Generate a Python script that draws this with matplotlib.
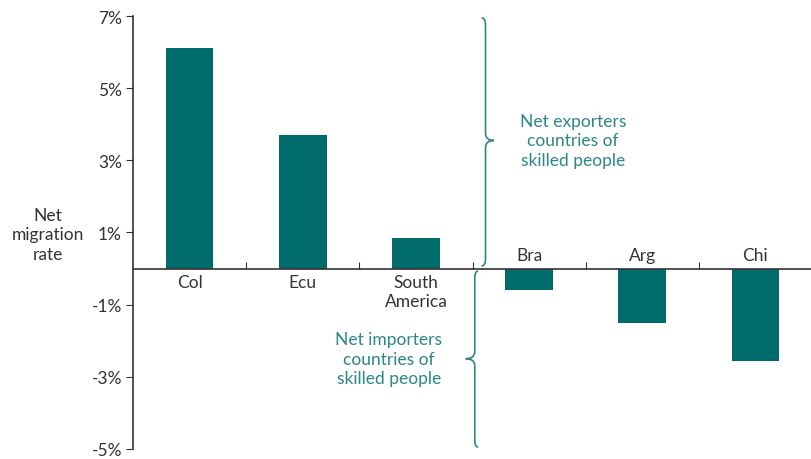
import matplotlib.pyplot as plt
from matplotlib.path import Path
from matplotlib.patches import PathPatch

# data
countries = ["Col", "Ecu", "South\nAmerica", "Bra", "Arg", "Chi"]
net_rate = [6.1, 3.7, 0.85, -0.6, -1.5, -2.55]
yticks = [7, 5, 3, 1, -1, -3, -5]

bar_color = "#006B6B"
note_color = "#2E8686"
ink = "#333333"
fs = 12.5

plt.rcParams["font.family"] = ["Lato", "DejaVu Sans"]

fig = plt.figure(figsize=(8.12, 4.6), dpi=100)
ax = fig.add_axes([0.1638, 0.022, 0.8362, 0.941])

x = list(range(len(countries)))
ax.bar(x, net_rate, width=0.42, color=bar_color, zorder=2)

ax.set_xlim(-0.5, len(countries) - 0.5)
ax.set_ylim(-5, 7)

# axes
for side in ["top", "right"]:
    ax.spines[side].set_visible(False)
ax.spines["bottom"].set_position(("data", 0))
ax.spines["bottom"].set_color(ink)
ax.spines["left"].set_color(ink)
ax.spines["bottom"].set_linewidth(1.2)
ax.spines["left"].set_linewidth(1.2)

ax.set_yticks(yticks)
ax.set_yticklabels([f"{t}%" for t in yticks])
ax.tick_params(axis="y", direction="out", length=5, color=ink,
               labelsize=fs, labelcolor=ink, pad=3)
ax.set_xticks([i + 0.5 for i in x[:-1]])
ax.set_xticklabels([])
ax.tick_params(axis="x", direction="in", length=5, color=ink)

# category labels: below axis for positive bars, above for negative
for xi, name, v in zip(x, countries, net_rate):
    if v >= 0:
        ax.text(xi, -0.15, name, ha="center", va="top", fontsize=fs,
                color=ink, linespacing=1.2)
    else:
        ax.text(xi, 0.15, name, ha="center", va="bottom", fontsize=fs,
                color=ink)

ax.text(-1.25, 0.95, "Net\nmigration\nrate", ha="center", va="center",
        fontsize=fs, color=ink, linespacing=1.25, clip_on=False)


def brace(ax, x_end, x_mid, x_tip, y0, y1, ym, r):
    # curly brace drawn as quadratic curves in data coords
    s = 1 if y1 > y0 else -1
    verts = [
        (x_end, y0), (x_mid, y0), (x_mid, y0 + s * r),
        (x_mid, ym - s * r),
        (x_mid, ym), (x_tip, ym),
        (x_mid, ym), (x_mid, ym + s * r),
        (x_mid, y1 - s * r),
        (x_mid, y1), (x_end, y1),
    ]
    codes = [Path.MOVETO, Path.CURVE3, Path.CURVE3, Path.LINETO,
             Path.CURVE3, Path.CURVE3, Path.CURVE3, Path.CURVE3,
             Path.LINETO, Path.CURVE3, Path.CURVE3]
    ax.add_patch(PathPatch(Path(verts, codes), fill=False, lw=1.2,
                           edgecolor=note_color, clip_on=False, zorder=3))


brace(ax, 2.58, 2.615, 2.69, 6.95, 0.07, 3.55, 0.2)
brace(ax, 2.55, 2.52, 2.44, -0.07, -4.95, -2.5, 0.2)

ax.text(3.39, 3.55, "Net exporters\ncountries of\nskilled people",
        ha="center", va="center", fontsize=fs, color=note_color,
        linespacing=1.25)
ax.text(1.76, -2.5, "Net importers\ncountries of\nskilled people",
        ha="center", va="center", fontsize=fs, color=note_color,
        linespacing=1.25)

fig.savefig("out.png", dpi=100)
